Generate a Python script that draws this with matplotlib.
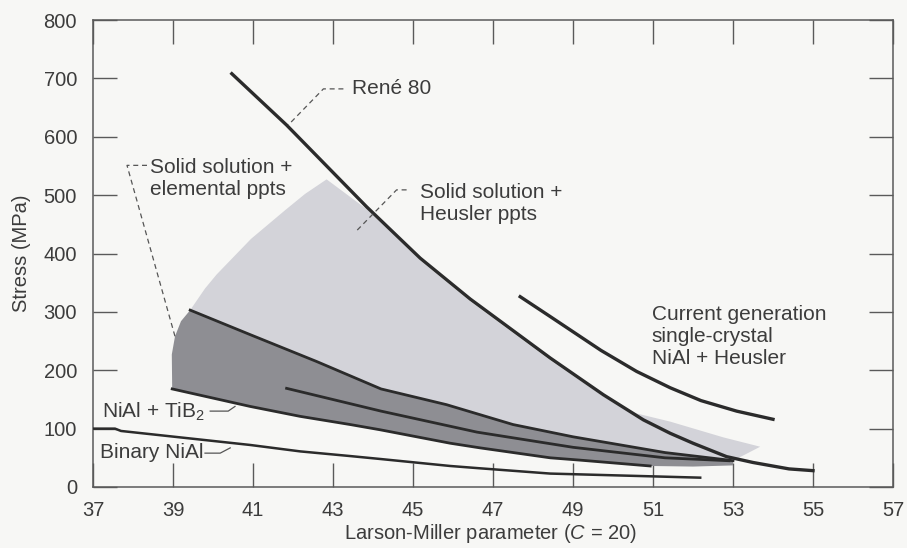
import matplotlib
matplotlib.use("Agg")
import matplotlib.pyplot as plt

# ---- data (Larson-Miller parameter vs stress in MPa)
rene_x = [40.47, 41.84, 43.84, 45.18, 46.43, 47.5, 48.43, 49.76, 50.76, 51.43, 52.0, 52.84, 53.5, 54.4, 55.0]
rene_y = [708, 620, 480, 392, 322, 268, 221, 158, 115, 92, 75, 52, 42, 31, 28]

current_x = [47.68, 48.43, 49.7, 50.59, 51.43, 52.2, 53.09, 54.0]
current_y = [326, 292, 234, 198, 170, 148, 130, 116]

# light band: solid solution + Heusler ppts (upper edge)
heusler_top_x = [39.43, 39.8, 40.09, 40.95, 41.8, 42.3, 42.84, 43.84, 45.18, 46.43, 47.5, 48.43, 49.76,
                 50.59, 51.43, 52.76, 53.68]
heusler_top_y = [303, 340, 364, 425, 474, 502, 527, 476, 388, 318, 264, 217, 155, 126, 112, 85, 69]

# dark band: solid solution + elemental ppts
elem_left_x = [38.98, 38.97, 39.05, 39.2]
elem_left_y = [168, 227, 258, 284]
elem_upper_x = [39.43, 40.93, 42.59, 44.2, 45.84, 47.5, 49.0, 51.3, 52.9, 53.0]
elem_upper_y = [303, 261, 215, 168, 141, 107, 86, 59, 46, 45]
elem_lower_x = [38.98, 40.93, 42.18, 43.43, 44.18, 45.93, 46.68, 48.43, 49.18, 50.93]
elem_lower_y = [168, 138, 121, 107, 98, 75, 67, 50, 46, 36]
elem_tail_x = [53.0, 52.0]
elem_tail_y = [37, 35]

tib2_x = [41.84, 44.2, 46.6, 49.0, 51.3, 52.9]
tib2_y = [169, 130, 94, 68, 50, 45]

binary_x = [37.0, 37.55, 37.7, 40.93, 42.18, 43.43, 44.18, 45.93, 46.68, 48.43, 49.5, 52.18]
binary_y = [100, 100, 96, 72, 61, 53, 48, 36, 32, 23, 21, 16]

# leader lines
rene_lead_x, rene_lead_y = [43.26, 42.76, 41.88], [682, 682, 620]
elem_lead_x, elem_lead_y = [38.35, 37.85, 39.05], [551, 551, 258]
heus_lead_x, heus_lead_y = [44.84, 44.59, 43.59], [509, 509, 439]
tib2_lead_x, tib2_lead_y = [39.93, 40.38, 40.55], [130, 130, 138]
bin_lead_x, bin_lead_y = [39.8, 40.18, 40.43], [58, 58, 67]

xticks = list(range(37, 58, 2))
yticks = list(range(0, 801, 100))

# ---- style
plt.rcParams['font.family'] = ['Liberation Sans', 'DejaVu Sans']
plt.rcParams['mathtext.fontset'] = 'custom'
plt.rcParams['mathtext.rm'] = 'Liberation Sans'
plt.rcParams['mathtext.it'] = 'Liberation Sans:italic'

bg = '#f7f7f5'
txt = '#3c3c3c'
ink = '#2b2b2b'
frame = '#5a5a5a'

fig = plt.figure(figsize=(9.07, 5.48), dpi=100)
fig.patch.set_facecolor(bg)
ax = fig.add_axes([93/907, 61/548, 800/907, 467/548])
ax.set_facecolor(bg)

# light gray region (Heusler) : top edge then back along the dark band's upper line
ax.fill(heusler_top_x + elem_upper_x[::-1], heusler_top_y + elem_upper_y[::-1],
        color='#d3d3d9', lw=0, zorder=1)
# dark gray region (elemental)
ax.fill(elem_left_x + elem_upper_x + elem_tail_x + elem_lower_x[::-1],
        elem_left_y + elem_upper_y + elem_tail_y + elem_lower_y[::-1],
        color='#8e8e93', lw=0, zorder=2)

ax.plot(elem_upper_x, elem_upper_y, color=ink, lw=2.0, zorder=3)
ax.plot(elem_lower_x, elem_lower_y, color=ink, lw=2.0, zorder=3)
ax.plot(tib2_x, tib2_y, color=ink, lw=2.0, zorder=3)
ax.plot(binary_x, binary_y, color=ink, lw=1.8, zorder=3)
ax.plot(rene_x, rene_y, color=ink, lw=2.4, zorder=4)
ax.plot(current_x, current_y, color=ink, lw=2.4, zorder=4)

for lx, ly in [(rene_lead_x, rene_lead_y), (elem_lead_x, elem_lead_y), (heus_lead_x, heus_lead_y)]:
    ax.plot(lx, ly, color='#555555', lw=0.9, ls=(0, (4, 3)), zorder=5)
for lx, ly in [(tib2_lead_x, tib2_lead_y), (bin_lead_x, bin_lead_y)]:
    ax.plot(lx, ly, color='#555555', lw=0.9, zorder=5)

fs = 15
ax.text(43.48, 682, 'René 80', fontsize=fs, color=txt, ha='left', va='center')
ax.text(38.43, 528, 'Solid solution +\nelemental ppts', fontsize=fs, color=txt, ha='left', va='center')
ax.text(45.18, 485, 'Solid solution +\nHeusler ppts', fontsize=fs, color=txt, ha='left', va='center')
ax.text(50.97, 258, 'Current generation\nsingle-crystal\nNiAl + Heusler', fontsize=fs, color=txt,
        ha='left', va='center')
ax.text(37.22, 118, 'NiAl + TiB$_2$', fontsize=fs, color=txt, ha='left', va='baseline')
ax.text(37.18, 49, 'Binary NiAl', fontsize=fs, color=txt, ha='left', va='baseline')

ax.set_xlim(37, 57)
ax.set_ylim(0, 800)
ax.set_xticks(xticks)
ax.set_yticks(yticks)
ax.tick_params(direction='in', length=17, width=1.0, color=frame, top=True, right=True,
               labelsize=14.5, labelcolor=txt)
ax.tick_params(axis='x', pad=10)
ax.tick_params(axis='y', pad=11.5)
for s in ax.spines.values():
    s.set_color(frame)
    s.set_linewidth(1.1)

ax.set_xlabel('Larson-Miller parameter ($\\mathit{C}$ = 20)', fontsize=14.5, color=txt)
ax.set_ylabel('Stress (MPa)', fontsize=14.5, color=txt)
ax.xaxis.set_label_coords(0.4965, -0.075)
ax.yaxis.set_label_coords(-0.078, 0.5)

fig.savefig('out.png', dpi=100, facecolor=fig.get_facecolor())
